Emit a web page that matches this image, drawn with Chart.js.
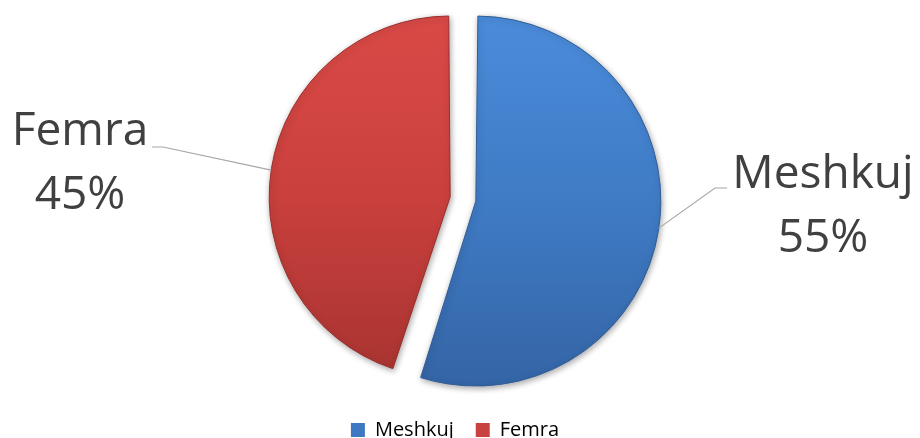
<!DOCTYPE html>
<html>
<head>
<meta charset="utf-8">
<script src="https://cdn.jsdelivr.net/npm/chart.js@4"></script>
<style>
  html, body { margin: 0; padding: 0; background: #ffffff; }
  #wrap { width: 920px; height: 438px; position: relative; }
</style>
</head>
<body>
<div id="wrap"><canvas id="c" width="920" height="438"></canvas></div>
<script>
const categories = ['Meshkuj', 'Femra'];
const values = [55, 45];
const topColors = ['#4b8cdb', '#da4a47'];
const midColors = ['#3f7bc5', '#c9403d'];
const bottomColors = ['#3464a4', '#a63330'];
const legendColors = ['#3f78c2', '#c8423f'];

function sliceFill(context) {
  const i = context.dataIndex;
  const chart = context.chart;
  if (!chart.chartArea) return midColors[i];
  const g = chart.ctx.createLinearGradient(0, 10, 0, 390);
  g.addColorStop(0, topColors[i]);
  g.addColorStop(0.5, midColors[i]);
  g.addColorStop(1, bottomColors[i]);
  return g;
}

const shadowPlugin = {
  id: 'shadow',
  beforeDatasetsDraw(chart) {
    const c = chart.ctx;
    c.save();
    c.shadowColor = 'rgba(0,0,0,0.35)';
    c.shadowBlur = 6;
    c.shadowOffsetX = 1;
    c.shadowOffsetY = 2;
  },
  afterDatasetsDraw(chart) {
    chart.ctx.restore();
  }
};

const legendShift = {
  id: 'legendShift',
  afterLayout(chart) {
    if (chart.legend) {
      chart.legend.left -= 8;
      chart.legend.right -= 8;
    }
  }
};

const labelPlugin = {
  id: 'calloutLabels',
  afterDatasetsDraw(chart, args, opts) {
    const c = chart.ctx;
    const meta = chart.getDatasetMeta(0);
    const total = values.reduce((a, b) => a + b, 0);
    meta.data.forEach((arc, i) => {
      const cfg = opts.items[i];
      const p = arc.getProps(['x', 'y', 'startAngle', 'endAngle', 'outerRadius'], true);
      const off = (arc.options.offset || 0) / 4;
      const mid = (p.startAngle + p.endAngle) / 2;
      const cx = p.x + Math.cos(mid) * off;
      const cy = p.y + Math.sin(mid) * off;
      const circ = p.endAngle - p.startAngle;
      const fix = 1 - Math.sin(Math.min(Math.PI, circ));
      const r = p.outerRadius + off * fix;
      const ax = cx + Math.cos(cfg.angle) * r;
      const ay = cy + Math.sin(cfg.angle) * r;
      c.save();
      c.strokeStyle = '#a6a6a6';
      c.lineWidth = 1.2;
      c.beginPath();
      c.moveTo(ax, ay);
      c.lineTo(cfg.elbow[0], cfg.elbow[1]);
      c.lineTo(cfg.end[0], cfg.end[1]);
      c.stroke();
      c.fillStyle = '#404040';
      c.font = '46px "Open Sans"';
      c.textAlign = 'center';
      c.textBaseline = 'alphabetic';
      const pct = Math.round(values[i] / total * 100) + '%';
      c.fillText(categories[i], cfg.text[0], cfg.text[1]);
      c.fillText(pct, cfg.text[0], cfg.text[1] + 64);
      c.restore();
    });
  }
};

new Chart(document.getElementById('c'), {
  type: 'pie',
  data: {
    labels: categories,
    datasets: [{
      data: values,
      backgroundColor: sliceFill,
      borderColor: ['#2f5d98', '#9a2f2c'],
      borderWidth: 1,
      offset: 52,
      radius: 172
    }]
  },
  options: {
    responsive: false,
    animation: false,
    events: [],
    layout: { padding: { left: 6, right: 0, top: -3, bottom: -12 } },
    plugins: {
      tooltip: { enabled: false },
      legend: {
        position: 'bottom',
        labels: {
          font: { family: '"Open Sans"', size: 20 },
          color: '#404040',
          boxWidth: 14,
          boxHeight: 14,
          padding: 22,
          generateLabels(chart) {
            return categories.map((t, i) => ({
              text: t,
              fillStyle: legendColors[i],
              strokeStyle: legendColors[i],
              lineWidth: 0,
              hidden: false,
              index: i
            }));
          }
        }
      },
      calloutLabels: {
        items: [
          { angle: 0.147, elbow: [715, 188], end: [727, 188], text: [823, 188] },
          { angle: Math.PI + 0.149, elbow: [163, 147], end: [152, 147], text: [80, 145] }
        ]
      }
    }
  },
  plugins: [shadowPlugin, legendShift, labelPlugin]
});
</script>
</body>
</html>
